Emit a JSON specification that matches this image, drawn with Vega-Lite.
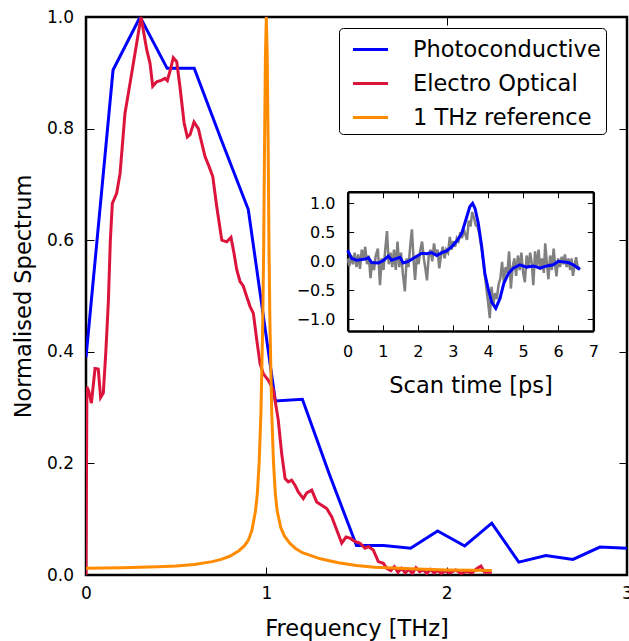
{
  "$schema": "https://vega.github.io/schema/vega-lite/v6.json",
  "width": 541,
  "height": 558,
  "autosize": {"type": "none"},
  "padding": {"left": 86, "top": 17, "right": 2, "bottom": 66},
  "background": "white",
  "config": {
    "font": "DejaVu Sans",
    "view": {"stroke": "black", "strokeWidth": 2.5},
    "axis": {
      "grid": false,
      "domain": false,
      "labelFont": "DejaVu Sans",
      "labelFontSize": 17,
      "labelColor": "black",
      "labelFlush": false,
      "labelOverlap": false,
      "tickColor": "black",
      "tickWidth": 1,
      "tickSize": -8,
      "titleFont": "DejaVu Sans",
      "titleFontSize": 22.5,
      "titleFontWeight": "normal",
      "titleColor": "black"
    }
  },
  "datasets": {
    "main": [
      {"f": 0, "v": 0.39, "s": "Photoconductive"},
      {"f": 0.15, "v": 0.905, "s": "Photoconductive"},
      {"f": 0.3, "v": 1.0, "s": "Photoconductive"},
      {"f": 0.45, "v": 0.908, "s": "Photoconductive"},
      {"f": 0.6, "v": 0.908, "s": "Photoconductive"},
      {"f": 0.75, "v": 0.78, "s": "Photoconductive"},
      {"f": 0.9, "v": 0.655, "s": "Photoconductive"},
      {"f": 1.05, "v": 0.312, "s": "Photoconductive"},
      {"f": 1.2, "v": 0.315, "s": "Photoconductive"},
      {"f": 1.35, "v": 0.18, "s": "Photoconductive"},
      {"f": 1.5, "v": 0.053, "s": "Photoconductive"},
      {"f": 1.65, "v": 0.053, "s": "Photoconductive"},
      {"f": 1.8, "v": 0.048, "s": "Photoconductive"},
      {"f": 1.95, "v": 0.079, "s": "Photoconductive"},
      {"f": 2.1, "v": 0.052, "s": "Photoconductive"},
      {"f": 2.25, "v": 0.093, "s": "Photoconductive"},
      {"f": 2.4, "v": 0.023, "s": "Photoconductive"},
      {"f": 2.55, "v": 0.035, "s": "Photoconductive"},
      {"f": 2.7, "v": 0.028, "s": "Photoconductive"},
      {"f": 2.85, "v": 0.05, "s": "Photoconductive"},
      {"f": 3.0, "v": 0.048, "s": "Photoconductive"},
      {"f": 0, "v": 0.0, "s": "Electro Optical"},
      {"f": 0.005, "v": 0.337, "s": "Electro Optical"},
      {"f": 0.015, "v": 0.33, "s": "Electro Optical"},
      {"f": 0.03, "v": 0.308, "s": "Electro Optical"},
      {"f": 0.05, "v": 0.37, "s": "Electro Optical"},
      {"f": 0.068, "v": 0.369, "s": "Electro Optical"},
      {"f": 0.081, "v": 0.318, "s": "Electro Optical"},
      {"f": 0.096, "v": 0.326, "s": "Electro Optical"},
      {"f": 0.11, "v": 0.4, "s": "Electro Optical"},
      {"f": 0.124, "v": 0.49, "s": "Electro Optical"},
      {"f": 0.135, "v": 0.6, "s": "Electro Optical"},
      {"f": 0.146, "v": 0.666, "s": "Electro Optical"},
      {"f": 0.17, "v": 0.684, "s": "Electro Optical"},
      {"f": 0.189, "v": 0.72, "s": "Electro Optical"},
      {"f": 0.216, "v": 0.827, "s": "Electro Optical"},
      {"f": 0.244, "v": 0.881, "s": "Electro Optical"},
      {"f": 0.281, "v": 0.953, "s": "Electro Optical"},
      {"f": 0.305, "v": 1.0, "s": "Electro Optical"},
      {"f": 0.337, "v": 0.941, "s": "Electro Optical"},
      {"f": 0.355, "v": 0.917, "s": "Electro Optical"},
      {"f": 0.37, "v": 0.876, "s": "Electro Optical"},
      {"f": 0.392, "v": 0.884, "s": "Electro Optical"},
      {"f": 0.42, "v": 0.887, "s": "Electro Optical"},
      {"f": 0.438, "v": 0.89, "s": "Electro Optical"},
      {"f": 0.451, "v": 0.886, "s": "Electro Optical"},
      {"f": 0.47, "v": 0.908, "s": "Electro Optical"},
      {"f": 0.484, "v": 0.927, "s": "Electro Optical"},
      {"f": 0.503, "v": 0.92, "s": "Electro Optical"},
      {"f": 0.521, "v": 0.875, "s": "Electro Optical"},
      {"f": 0.544, "v": 0.81, "s": "Electro Optical"},
      {"f": 0.562, "v": 0.785, "s": "Electro Optical"},
      {"f": 0.577, "v": 0.789, "s": "Electro Optical"},
      {"f": 0.599, "v": 0.812, "s": "Electro Optical"},
      {"f": 0.623, "v": 0.8, "s": "Electro Optical"},
      {"f": 0.642, "v": 0.774, "s": "Electro Optical"},
      {"f": 0.66, "v": 0.75, "s": "Electro Optical"},
      {"f": 0.679, "v": 0.735, "s": "Electro Optical"},
      {"f": 0.703, "v": 0.714, "s": "Electro Optical"},
      {"f": 0.725, "v": 0.66, "s": "Electro Optical"},
      {"f": 0.753, "v": 0.6, "s": "Electro Optical"},
      {"f": 0.78, "v": 0.597, "s": "Electro Optical"},
      {"f": 0.804, "v": 0.605, "s": "Electro Optical"},
      {"f": 0.821, "v": 0.576, "s": "Electro Optical"},
      {"f": 0.836, "v": 0.547, "s": "Electro Optical"},
      {"f": 0.854, "v": 0.526, "s": "Electro Optical"},
      {"f": 0.872, "v": 0.518, "s": "Electro Optical"},
      {"f": 0.891, "v": 0.499, "s": "Electro Optical"},
      {"f": 0.91, "v": 0.481, "s": "Electro Optical"},
      {"f": 0.928, "v": 0.469, "s": "Electro Optical"},
      {"f": 0.947, "v": 0.421, "s": "Electro Optical"},
      {"f": 0.965, "v": 0.379, "s": "Electro Optical"},
      {"f": 0.983, "v": 0.361, "s": "Electro Optical"},
      {"f": 1.011, "v": 0.349, "s": "Electro Optical"},
      {"f": 1.039, "v": 0.332, "s": "Electro Optical"},
      {"f": 1.066, "v": 0.278, "s": "Electro Optical"},
      {"f": 1.085, "v": 0.218, "s": "Electro Optical"},
      {"f": 1.104, "v": 0.173, "s": "Electro Optical"},
      {"f": 1.122, "v": 0.167, "s": "Electro Optical"},
      {"f": 1.14, "v": 0.17, "s": "Electro Optical"},
      {"f": 1.159, "v": 0.161, "s": "Electro Optical"},
      {"f": 1.177, "v": 0.149, "s": "Electro Optical"},
      {"f": 1.205, "v": 0.137, "s": "Electro Optical"},
      {"f": 1.224, "v": 0.147, "s": "Electro Optical"},
      {"f": 1.252, "v": 0.152, "s": "Electro Optical"},
      {"f": 1.279, "v": 0.131, "s": "Electro Optical"},
      {"f": 1.307, "v": 0.125, "s": "Electro Optical"},
      {"f": 1.335, "v": 0.119, "s": "Electro Optical"},
      {"f": 1.363, "v": 0.104, "s": "Electro Optical"},
      {"f": 1.39, "v": 0.081, "s": "Electro Optical"},
      {"f": 1.418, "v": 0.057, "s": "Electro Optical"},
      {"f": 1.442, "v": 0.068, "s": "Electro Optical"},
      {"f": 1.464, "v": 0.066, "s": "Electro Optical"},
      {"f": 1.492, "v": 0.06, "s": "Electro Optical"},
      {"f": 1.52, "v": 0.057, "s": "Electro Optical"},
      {"f": 1.547, "v": 0.048, "s": "Electro Optical"},
      {"f": 1.566, "v": 0.051, "s": "Electro Optical"},
      {"f": 1.593, "v": 0.045, "s": "Electro Optical"},
      {"f": 1.621, "v": 0.024, "s": "Electro Optical"},
      {"f": 1.649, "v": 0.021, "s": "Electro Optical"},
      {"f": 1.668, "v": 0.012, "s": "Electro Optical"},
      {"f": 1.69, "v": 0.008, "s": "Electro Optical"},
      {"f": 1.71, "v": 0.015, "s": "Electro Optical"},
      {"f": 1.73, "v": 0.005, "s": "Electro Optical"},
      {"f": 1.75, "v": 0.012, "s": "Electro Optical"},
      {"f": 1.77, "v": 0.004, "s": "Electro Optical"},
      {"f": 1.79, "v": 0.01, "s": "Electro Optical"},
      {"f": 1.81, "v": 0.003, "s": "Electro Optical"},
      {"f": 1.83, "v": 0.013, "s": "Electro Optical"},
      {"f": 1.85, "v": 0.006, "s": "Electro Optical"},
      {"f": 1.87, "v": 0.009, "s": "Electro Optical"},
      {"f": 1.89, "v": 0.003, "s": "Electro Optical"},
      {"f": 1.91, "v": 0.01, "s": "Electro Optical"},
      {"f": 1.93, "v": 0.004, "s": "Electro Optical"},
      {"f": 1.95, "v": 0.008, "s": "Electro Optical"},
      {"f": 1.97, "v": 0.003, "s": "Electro Optical"},
      {"f": 1.99, "v": 0.007, "s": "Electro Optical"},
      {"f": 2.02, "v": 0.004, "s": "Electro Optical"},
      {"f": 2.05, "v": 0.009, "s": "Electro Optical"},
      {"f": 2.08, "v": 0.003, "s": "Electro Optical"},
      {"f": 2.11, "v": 0.006, "s": "Electro Optical"},
      {"f": 2.14, "v": 0.004, "s": "Electro Optical"},
      {"f": 2.17, "v": 0.012, "s": "Electro Optical"},
      {"f": 2.19, "v": 0.016, "s": "Electro Optical"},
      {"f": 2.21, "v": 0.005, "s": "Electro Optical"},
      {"f": 2.25, "v": 0.005, "s": "Electro Optical"},
      {"f": 0, "v": 0.012, "s": "1 THz reference"},
      {"f": 0.2, "v": 0.013, "s": "1 THz reference"},
      {"f": 0.4, "v": 0.015, "s": "1 THz reference"},
      {"f": 0.5, "v": 0.016, "s": "1 THz reference"},
      {"f": 0.6, "v": 0.019, "s": "1 THz reference"},
      {"f": 0.7, "v": 0.024, "s": "1 THz reference"},
      {"f": 0.75, "v": 0.028, "s": "1 THz reference"},
      {"f": 0.8, "v": 0.034, "s": "1 THz reference"},
      {"f": 0.85, "v": 0.044, "s": "1 THz reference"},
      {"f": 0.88, "v": 0.053, "s": "1 THz reference"},
      {"f": 0.9, "v": 0.062, "s": "1 THz reference"},
      {"f": 0.92, "v": 0.08, "s": "1 THz reference"},
      {"f": 0.94, "v": 0.115, "s": "1 THz reference"},
      {"f": 0.95, "v": 0.145, "s": "1 THz reference"},
      {"f": 0.96, "v": 0.2, "s": "1 THz reference"},
      {"f": 0.97, "v": 0.29, "s": "1 THz reference"},
      {"f": 0.975, "v": 0.37, "s": "1 THz reference"},
      {"f": 0.98, "v": 0.45, "s": "1 THz reference"},
      {"f": 0.985, "v": 0.58, "s": "1 THz reference"},
      {"f": 0.99, "v": 0.77, "s": "1 THz reference"},
      {"f": 0.995, "v": 0.93, "s": "1 THz reference"},
      {"f": 1.0, "v": 1.0, "s": "1 THz reference"},
      {"f": 1.005, "v": 0.93, "s": "1 THz reference"},
      {"f": 1.01, "v": 0.77, "s": "1 THz reference"},
      {"f": 1.015, "v": 0.58, "s": "1 THz reference"},
      {"f": 1.02, "v": 0.45, "s": "1 THz reference"},
      {"f": 1.025, "v": 0.37, "s": "1 THz reference"},
      {"f": 1.03, "v": 0.29, "s": "1 THz reference"},
      {"f": 1.04, "v": 0.2, "s": "1 THz reference"},
      {"f": 1.05, "v": 0.145, "s": "1 THz reference"},
      {"f": 1.06, "v": 0.115, "s": "1 THz reference"},
      {"f": 1.08, "v": 0.085, "s": "1 THz reference"},
      {"f": 1.1, "v": 0.07, "s": "1 THz reference"},
      {"f": 1.13, "v": 0.057, "s": "1 THz reference"},
      {"f": 1.16, "v": 0.048, "s": "1 THz reference"},
      {"f": 1.2, "v": 0.04, "s": "1 THz reference"},
      {"f": 1.3, "v": 0.029, "s": "1 THz reference"},
      {"f": 1.4, "v": 0.022, "s": "1 THz reference"},
      {"f": 1.5, "v": 0.017, "s": "1 THz reference"},
      {"f": 1.6, "v": 0.014, "s": "1 THz reference"},
      {"f": 1.8, "v": 0.011, "s": "1 THz reference"},
      {"f": 2.0, "v": 0.009, "s": "1 THz reference"},
      {"f": 2.25, "v": 0.008, "s": "1 THz reference"}
    ],
    "raw": [
      {"t": 0.00, "v": 0.05}, {"t": 0.05, "v": -0.08}, {"t": 0.10, "v": 0.10}, {"t": 0.15, "v": -0.05},
      {"t": 0.20, "v": 0.15}, {"t": 0.25, "v": -0.10}, {"t": 0.30, "v": 0.12}, {"t": 0.35, "v": -0.13},
      {"t": 0.40, "v": 0.20}, {"t": 0.45, "v": 0.05}, {"t": 0.50, "v": 0.25}, {"t": 0.55, "v": -0.05},
      {"t": 0.60, "v": 0.10}, {"t": 0.65, "v": -0.29}, {"t": 0.70, "v": 0.00}, {"t": 0.75, "v": -0.15},
      {"t": 0.80, "v": 0.10}, {"t": 0.86, "v": 0.22}, {"t": 0.92, "v": -0.41}, {"t": 0.97, "v": 0.05},
      {"t": 1.02, "v": -0.15}, {"t": 1.07, "v": 0.20}, {"t": 1.12, "v": 0.52}, {"t": 1.17, "v": -0.05},
      {"t": 1.22, "v": 0.15}, {"t": 1.27, "v": -0.10}, {"t": 1.32, "v": 0.20}, {"t": 1.37, "v": -0.15},
      {"t": 1.42, "v": 0.34}, {"t": 1.47, "v": -0.10}, {"t": 1.52, "v": 0.15}, {"t": 1.57, "v": -0.20},
      {"t": 1.63, "v": -0.52}, {"t": 1.68, "v": 0.05}, {"t": 1.73, "v": -0.10}, {"t": 1.78, "v": 0.25},
      {"t": 1.83, "v": 0.55}, {"t": 1.88, "v": 0.00}, {"t": 1.92, "v": -0.32}, {"t": 1.97, "v": 0.10},
      {"t": 2.02, "v": -0.05}, {"t": 2.07, "v": 0.20}, {"t": 2.12, "v": 0.34}, {"t": 2.17, "v": 0.05},
      {"t": 2.22, "v": -0.15}, {"t": 2.26, "v": -0.33}, {"t": 2.31, "v": 0.10}, {"t": 2.36, "v": 0.20},
      {"t": 2.41, "v": 0.00}, {"t": 2.46, "v": 0.31}, {"t": 2.51, "v": 0.10}, {"t": 2.56, "v": 0.20},
      {"t": 2.61, "v": -0.12}, {"t": 2.66, "v": 0.10}, {"t": 2.71, "v": 0.25}, {"t": 2.76, "v": 0.05},
      {"t": 2.81, "v": 0.20}, {"t": 2.86, "v": 0.15}, {"t": 2.91, "v": 0.42}, {"t": 2.96, "v": 0.20},
      {"t": 3.01, "v": 0.35}, {"t": 3.06, "v": 0.25}, {"t": 3.11, "v": 0.40}, {"t": 3.16, "v": 0.35},
      {"t": 3.21, "v": 0.50}, {"t": 3.26, "v": 0.40}, {"t": 3.31, "v": 0.55}, {"t": 3.36, "v": 0.45},
      {"t": 3.40, "v": 0.37}, {"t": 3.45, "v": 0.70}, {"t": 3.50, "v": 0.60}, {"t": 3.55, "v": 0.85},
      {"t": 3.60, "v": 0.75}, {"t": 3.65, "v": 0.62}, {"t": 3.70, "v": 0.60}, {"t": 3.76, "v": 0.45},
      {"t": 3.82, "v": 0.20}, {"t": 3.88, "v": -0.10}, {"t": 3.94, "v": -0.40}, {"t": 4.00, "v": -0.70},
      {"t": 4.05, "v": -0.98}, {"t": 4.10, "v": -0.44}, {"t": 4.15, "v": -0.75}, {"t": 4.20, "v": -0.55},
      {"t": 4.25, "v": -0.65}, {"t": 4.30, "v": -0.40}, {"t": 4.35, "v": -0.30}, {"t": 4.40, "v": -0.01},
      {"t": 4.45, "v": -0.36}, {"t": 4.50, "v": -0.10}, {"t": 4.55, "v": -0.20}, {"t": 4.60, "v": 0.17},
      {"t": 4.65, "v": -0.47}, {"t": 4.70, "v": -0.10}, {"t": 4.75, "v": 0.05}, {"t": 4.80, "v": -0.25},
      {"t": 4.85, "v": 0.10}, {"t": 4.90, "v": -0.15}, {"t": 4.95, "v": 0.15}, {"t": 5.00, "v": -0.20},
      {"t": 5.05, "v": -0.36}, {"t": 5.10, "v": 0.10}, {"t": 5.15, "v": -0.10}, {"t": 5.20, "v": 0.15},
      {"t": 5.25, "v": -0.05}, {"t": 5.29, "v": -0.41}, {"t": 5.34, "v": 0.17}, {"t": 5.39, "v": -0.10},
      {"t": 5.44, "v": 0.20}, {"t": 5.49, "v": -0.15}, {"t": 5.54, "v": 0.05}, {"t": 5.59, "v": -0.20},
      {"t": 5.63, "v": 0.31}, {"t": 5.68, "v": -0.05}, {"t": 5.72, "v": -0.31}, {"t": 5.77, "v": 0.10},
      {"t": 5.82, "v": -0.15}, {"t": 5.87, "v": 0.22}, {"t": 5.91, "v": -0.05}, {"t": 5.95, "v": -0.26},
      {"t": 6.00, "v": 0.05}, {"t": 6.05, "v": -0.10}, {"t": 6.10, "v": 0.08}, {"t": 6.15, "v": -0.05},
      {"t": 6.19, "v": 0.12}, {"t": 6.24, "v": -0.10}, {"t": 6.29, "v": 0.05}, {"t": 6.34, "v": -0.15},
      {"t": 6.38, "v": 0.05}, {"t": 6.42, "v": -0.25}, {"t": 6.47, "v": -0.05}, {"t": 6.51, "v": 0.07},
      {"t": 6.56, "v": -0.12}, {"t": 6.62, "v": -0.10}
    ],
    "smooth": [
      {"t": 0, "v": 0.19}, {"t": 0.11, "v": 0.05}, {"t": 0.26, "v": 0.02}, {"t": 0.5, "v": 0.04},
      {"t": 0.59, "v": 0.06}, {"t": 0.68, "v": -0.02}, {"t": 0.87, "v": -0.03}, {"t": 1.01, "v": 0.01},
      {"t": 1.16, "v": 0.09}, {"t": 1.25, "v": 0.02}, {"t": 1.4, "v": 0.05}, {"t": 1.49, "v": 0.07},
      {"t": 1.58, "v": -0.03}, {"t": 1.73, "v": 0.0}, {"t": 1.92, "v": 0.07}, {"t": 2.11, "v": 0.14},
      {"t": 2.25, "v": 0.13}, {"t": 2.39, "v": 0.15}, {"t": 2.54, "v": 0.1}, {"t": 2.68, "v": 0.15},
      {"t": 2.82, "v": 0.18}, {"t": 2.96, "v": 0.25}, {"t": 3.11, "v": 0.35}, {"t": 3.25, "v": 0.48},
      {"t": 3.39, "v": 0.76}, {"t": 3.48, "v": 0.94}, {"t": 3.56, "v": 1.0}, {"t": 3.63, "v": 0.91},
      {"t": 3.72, "v": 0.66}, {"t": 3.82, "v": 0.25}, {"t": 3.91, "v": -0.21}, {"t": 4.01, "v": -0.49},
      {"t": 4.1, "v": -0.7}, {"t": 4.22, "v": -0.81}, {"t": 4.34, "v": -0.64}, {"t": 4.45, "v": -0.38},
      {"t": 4.58, "v": -0.21}, {"t": 4.72, "v": -0.12}, {"t": 4.91, "v": -0.06}, {"t": 5.1, "v": -0.1},
      {"t": 5.29, "v": -0.08}, {"t": 5.48, "v": -0.12}, {"t": 5.67, "v": -0.08}, {"t": 5.86, "v": -0.06},
      {"t": 6.0, "v": 0.0}, {"t": 6.14, "v": -0.01}, {"t": 6.28, "v": -0.02}, {"t": 6.43, "v": -0.06},
      {"t": 6.62, "v": -0.14}
    ]
  },
  "layer": [
    {
      "data": {"name": "main"},
      "layer": [
        {
          "mark": {"type": "line", "strokeWidth": 3, "clip": true},
          "encoding": {
            "x": {
              "field": "f", "type": "quantitative",
              "scale": {"domain": [0, 3], "nice": false, "zero": false},
              "axis": {
                "orient": "bottom", "values": [0, 1, 2, 3], "format": "d",
                "labelPadding": 18, "title": "Frequency [THz]",
                "titleY": 60, "titleBaseline": "alphabetic"
              }
            },
            "y": {
              "field": "v", "type": "quantitative",
              "scale": {"domain": [0, 1], "nice": false},
              "axis": {
                "orient": "left", "values": [0, 0.2, 0.4, 0.6, 0.8, 1.0], "format": ".1f",
                "labelPadding": 20.5, "title": "Normalised Spectrum",
                "titleX": -56, "titleY": 279, "titleBaseline": "alphabetic"
              }
            },
            "color": {
              "field": "s", "type": "nominal",
              "scale": {
                "domain": ["Photoconductive", "Electro Optical", "1 THz reference"],
                "range": ["#0000ff", "#dc143c", "#ff8c00"]
              },
              "legend": {
                "orient": "none", "legendX": 253, "legendY": 11,
                "title": null,
                "symbolType": "M-1.17,0H1.17",
                "symbolSize": 900,
                "symbolStrokeWidth": 3,
                "labelFont": "DejaVu Sans",
                "labelFontSize": 22.5,
                "labelColor": "black",
                "labelLimit": 400,
                "labelOffset": 26,
                "padding": 5,
                "symbolOffset": 10,
                "rowPadding": 6,
                "strokeColor": "black",
                "fillColor": "white",
                "cornerRadius": 4
              }
            }
          }
        },
        {
          "mark": {"type": "line", "strokeOpacity": 0},
          "encoding": {
            "x": {
              "field": "f", "type": "quantitative",
              "scale": {"domain": [0, 3], "nice": false, "zero": false},
              "axis": {"orient": "top", "values": [0, 1, 2, 3], "labels": false, "title": null}
            },
            "y": {
              "field": "v", "type": "quantitative",
              "scale": {"domain": [0, 1], "nice": false},
              "axis": {"orient": "right", "values": [0, 0.2, 0.4, 0.6, 0.8, 1.0], "labels": false, "title": null}
            },
            "detail": {"field": "s"}
          }
        }
      ],
      "resolve": {"axis": {"x": "independent", "y": "independent"}}
    },
    {
      "layer": [
        {
          "data": {"name": "raw"},
          "mark": {"type": "line", "strokeWidth": 2.5, "color": "#808080"},
          "encoding": {
            "x": {
              "field": "t", "type": "quantitative",
              "scale": {"domain": [0, 7], "range": [261.7, 507.3], "nice": false, "zero": false},
              "axis": {
                "orient": "bottom", "offset": -244.1, "values": [0, 1, 2, 3, 4, 5, 6, 7], "format": "d",
                "tickSize": -6, "labelPadding": 19, "labelFontSize": 16,
                "domain": true, "domainColor": "black", "domainWidth": 2.5,
                "title": "Scan time [ps]", "titleY": 61.6, "titleBaseline": "alphabetic"
              }
            },
            "y": {
              "field": "v", "type": "quantitative",
              "scale": {"domain": [-1.2, 1.2], "range": [313.9, 174.7], "nice": false, "zero": false},
              "axis": {
                "orient": "left", "offset": -261.7, "values": [-1, -0.5, 0, 0.5, 1], "format": ".1f",
                "tickSize": -6, "labelPadding": 18.7, "labelFontSize": 16,
                "domain": true, "domainColor": "black", "domainWidth": 2.5,
                "title": null
              }
            }
          }
        },
        {
          "data": {"name": "smooth"},
          "mark": {"type": "line", "strokeWidth": 3, "color": "#0000ff"},
          "encoding": {
            "x": {
              "field": "t", "type": "quantitative",
              "scale": {"domain": [0, 7], "range": [261.7, 507.3], "nice": false, "zero": false},
              "axis": {
                "orient": "top", "offset": -174.7, "values": [0, 1, 2, 3, 4, 5, 6, 7],
                "tickSize": -6, "labels": false,
                "domain": true, "domainColor": "black", "domainWidth": 2.5, "title": null
              }
            },
            "y": {
              "field": "v", "type": "quantitative",
              "scale": {"domain": [-1.2, 1.2], "range": [313.9, 174.7], "nice": false, "zero": false},
              "axis": {
                "orient": "right", "offset": -33.7, "values": [-1, -0.5, 0, 0.5, 1],
                "tickSize": -6, "labels": false,
                "domain": true, "domainColor": "black", "domainWidth": 2.5, "title": null
              }
            }
          }
        }
      ],
      "resolve": {"axis": {"x": "independent", "y": "independent"}}
    }
  ],
  "resolve": {"scale": {"x": "independent", "y": "independent"}}
}
